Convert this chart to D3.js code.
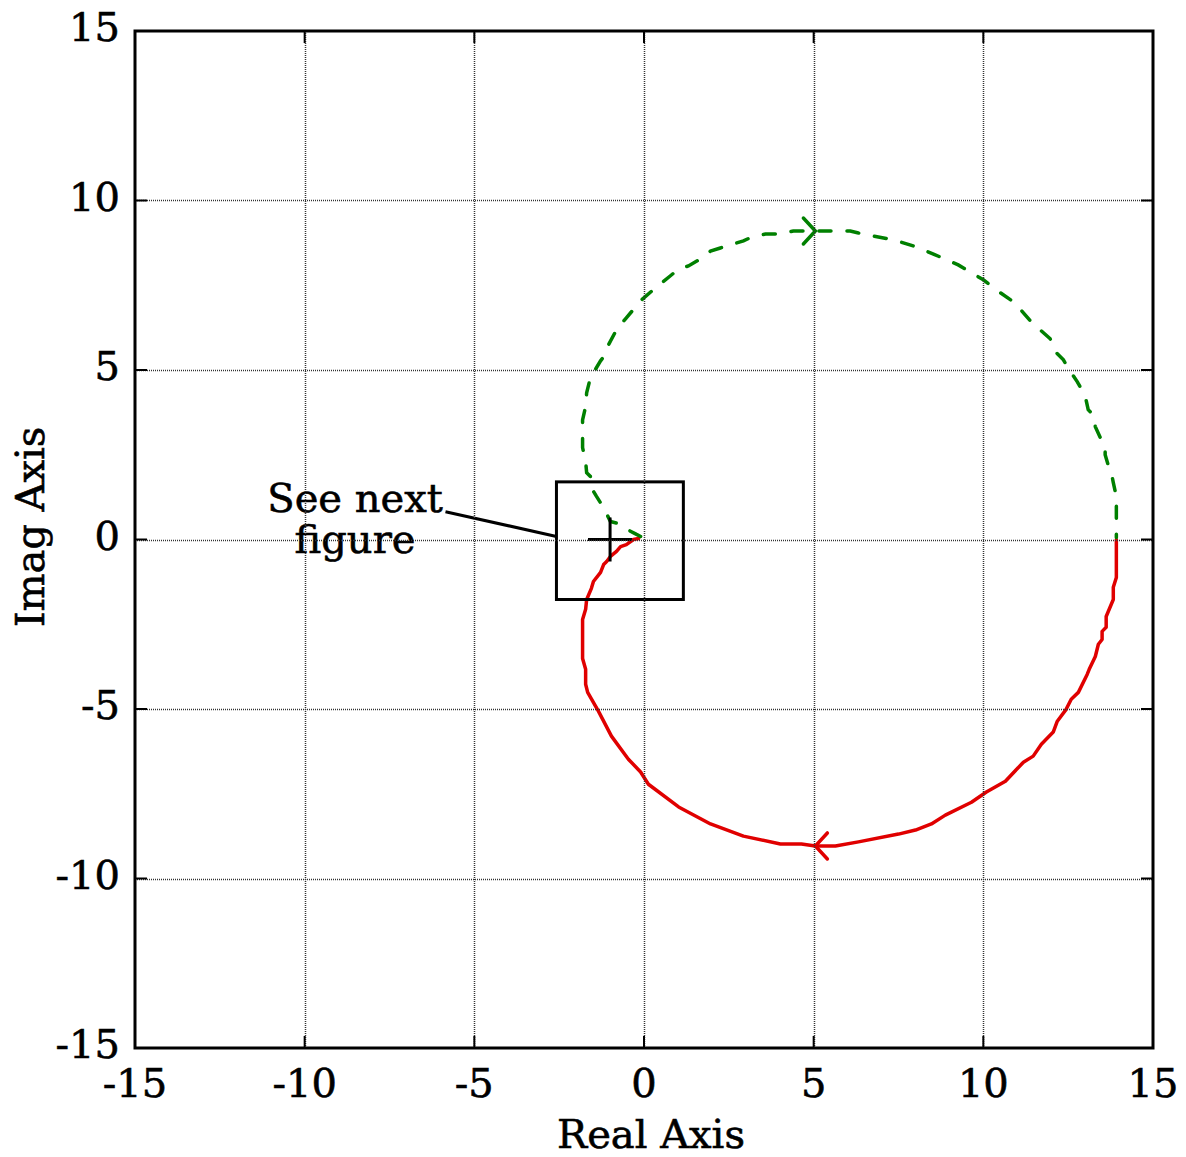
<!DOCTYPE html>
<html>
<head>
<meta charset="utf-8">
<script src="https://cdn.jsdelivr.net/npm/d3@7"></script>
<style>
  body { margin: 0; background: #fff; }
  text { font-family: "DejaVu Serif", serif; fill: #000; stroke: #000; stroke-width: 0.6px; }
</style>
</head>
<body>
<div id="plot"></div>
<script>
// tick values
var xTicks = [-15, -10, -5, 0, 5, 10, 15];
var yTicks = [-15, -10, -5, 0, 5, 10, 15];

// solid branch (lower half), from w=0 at the right round to the origin
var redRe = [13.92, 13.92, 13.83, 13.83, 13.62, 13.62, 13.50, 13.50, 13.39, 13.30, 13.12, 13.06, 12.80, 12.59, 12.44, 12.18, 12.06, 11.71, 11.47, 11.18, 10.65, 10.09, 9.65, 8.88, 8.47, 8.00, 7.50, 6.32, 5.64, 5.05, 4.64, 4.02, 2.93, 1.96, 1.02, 0.13, -0.10, -0.46, -0.96, -1.34, -1.66, -1.72, -1.72, -1.81, -1.81, -1.72, -1.69, -1.55, -1.49, -1.28, -1.19, -1.10, -0.99, -0.81, -0.69, -0.52, -0.31, -0.16];
var redIm = [0.00, -1.12, -1.41, -1.77, -2.27, -2.59, -2.71, -2.95, -3.09, -3.45, -3.83, -3.98, -4.51, -4.71, -5.01, -5.36, -5.68, -6.04, -6.39, -6.57, -7.13, -7.45, -7.75, -8.13, -8.39, -8.57, -8.69, -8.92, -9.04, -9.04, -8.98, -8.98, -8.75, -8.39, -7.89, -7.22, -6.86, -6.48, -5.80, -5.07, -4.51, -4.27, -3.83, -3.51, -2.36, -2.06, -1.77, -1.44, -1.24, -0.97, -0.74, -0.65, -0.50, -0.35, -0.21, -0.15, 0.00, 0.03];

// dashed branch (upper half), from the origin round to the right
var greenRe = [-0.10, -0.22, -0.54, -0.75, -0.99, -1.19, -1.40, -1.52, -1.58, -1.69, -1.72, -1.81, -1.81, -1.81, -1.72, -1.69, -1.58, -1.28, -1.19, -1.08, -0.84, -0.69, -0.52, -0.07, 0.37, 0.78, 1.02, 1.31, 1.72, 1.96, 2.25, 2.64, 2.93, 3.17, 3.58, 4.02, 4.40, 4.85, 5.23, 5.64, 6.08, 6.32, 6.76, 7.35, 7.94, 8.53, 9.26, 10.00, 10.50, 10.89, 11.03, 11.41, 11.97, 12.15, 12.36, 12.47, 12.77, 13.00, 13.09, 13.24, 13.30, 13.50, 13.59, 13.59, 13.71, 13.80, 13.83, 13.92, 13.92, 13.92, 13.92];
var greenIm = [0.09, 0.15, 0.32, 0.47, 0.53, 0.94, 1.27, 1.47, 1.86, 1.97, 2.30, 2.71, 3.15, 3.53, 3.92, 4.33, 4.77, 5.27, 5.39, 5.68, 6.13, 6.33, 6.54, 7.07, 7.45, 7.78, 7.98, 8.07, 8.31, 8.51, 8.60, 8.72, 8.81, 8.92, 9.01, 9.01, 9.10, 9.10, 9.10, 9.10, 9.10, 9.04, 8.95, 8.84, 8.66, 8.42, 8.10, 7.66, 7.28, 7.01, 6.86, 6.42, 5.92, 5.51, 5.30, 5.10, 4.65, 4.24, 3.83, 3.68, 3.33, 2.89, 2.74, 2.50, 2.09, 1.83, 1.68, 1.27, 0.83, 0.44, 0.06];

// direction arrows: tip position and direction (+1 right, -1 left)
var arrowRe = [5.05, 5.05];
var arrowIm = [9.10, -9.04];
var arrowDir = [1, -1];

// critical point -1 and zoom box with its note
var critRe = [-1];
var critIm = [0];
var boxRe = [-2.58, 1.16];
var boxIm = [-1.77, 1.70];
var noteLines = ["See next", "figure"];
var leaderRe = [-5.85, -2.58];
var leaderIm = [0.82, 0.09];

var W = 1186, H = 1157;
var padL = 135, padR = 1153, padT = 31, padB = 1048;

var svg = d3.select("#plot").append("svg")
  .attr("width", W)
  .attr("height", H)

svg.append("rect").attr("width", W).attr("height", H).attr("fill", "#fff")

var x = d3.scaleLinear().domain([-15, 15]).range([padL, padR])
var y = d3.scaleLinear().domain([-15, 15]).range([padB, padT])

var line = d3.line()
  .x(function(d){return x(d[0])})
  .y(function(d){return y(d[1])})

var red = d3.zip(redRe, redIm)
var green = d3.zip(greenRe, greenIm)

svg.append("path")
  .attr("d", line(red))
  .attr("fill", "none")
  .attr("stroke", "#e00000")
  .attr("stroke-width", 3.5)
  .attr("stroke-linejoin", "round")
  .attr("stroke-linecap", "round")

svg.append("path")
  .attr("d", line(green))
  .attr("fill", "none")
  .attr("stroke", "#008000")
  .attr("stroke-width", 3.5)
  .attr("stroke-dasharray", "12,16")
  .attr("stroke-linecap", "round")

// arrows
var arrowColor = ["#008000", "#e00000"]
arrowRe.forEach(function(re, i){
  var tx = x(re), ty = y(arrowIm[i]), dx = -12 * arrowDir[i]
  svg.append("path")
    .attr("d", "M" + (tx + dx) + "," + (ty - 13) + "L" + tx + "," + ty + "L" + (tx + dx) + "," + (ty + 13))
    .attr("fill", "none")
    .attr("stroke", arrowColor[i])
    .attr("stroke-width", 3.5)
    .attr("stroke-linecap", "round")
})

// -1 marker
critRe.forEach(function(re, i){
  svg.append("path")
    .attr("d", "M" + x(re - 0.65) + "," + y(critIm[i]) + "H" + x(re + 0.65) +
               "M" + x(re) + "," + y(critIm[i] + 0.65) + "V" + y(critIm[i] - 0.65))
    .attr("stroke", "#000")
    .attr("stroke-width", 3)
})

// zoom box and note
svg.append("rect")
  .attr("x", x(boxRe[0]))
  .attr("y", y(boxIm[1]))
  .attr("width", x(boxRe[1]) - x(boxRe[0]))
  .attr("height", y(boxIm[0]) - y(boxIm[1]))
  .attr("fill", "none")
  .attr("stroke", "#000")
  .attr("stroke-width", 3)

svg.append("line")
  .attr("x1", x(leaderRe[0])).attr("y1", y(leaderIm[0]))
  .attr("x2", x(leaderRe[1])).attr("y2", y(leaderIm[1]))
  .attr("stroke", "#000")
  .attr("stroke-width", 3)

svg.append("text")
  .attr("x", 355)
  .attr("y", 512)
  .attr("text-anchor", "middle")
  .attr("font-size", 40)
  .selectAll("tspan")
  .data(noteLines)
  .enter().append("tspan")
  .attr("x", 355)
  .attr("dy", function(d, i){return i ? 41 : 0})
  .text(function(d){return d})

// dotted grid, drawn on top like the original
var grid = svg.append("g")
  .attr("stroke", "#333")
  .attr("stroke-width", 1.5)
  .attr("stroke-dasharray", "1,1")
grid.selectAll("line.gx").data(xTicks.slice(1, -1)).enter().append("line")
  .attr("x1", function(d){return Math.round(x(d)) + 0.5})
  .attr("x2", function(d){return Math.round(x(d)) + 0.5})
  .attr("y1", padT).attr("y2", padB)
grid.selectAll("line.gy").data(yTicks.slice(1, -1)).enter().append("line")
  .attr("y1", function(d){return Math.round(y(d)) + 0.5})
  .attr("y2", function(d){return Math.round(y(d)) + 0.5})
  .attr("x1", padL).attr("x2", padR)

// inward ticks on all four sides
var ticks = svg.append("g").attr("stroke", "#000").attr("stroke-width", 2)
xTicks.forEach(function(t){
  ticks.append("line").attr("x1", x(t)).attr("x2", x(t)).attr("y1", padB).attr("y2", padB - 12)
  ticks.append("line").attr("x1", x(t)).attr("x2", x(t)).attr("y1", padT).attr("y2", padT + 12)
})
yTicks.forEach(function(t){
  ticks.append("line").attr("y1", y(t)).attr("y2", y(t)).attr("x1", padL).attr("x2", padL + 12)
  ticks.append("line").attr("y1", y(t)).attr("y2", y(t)).attr("x1", padR).attr("x2", padR - 12)
})

// frame
svg.append("rect")
  .attr("x", padL).attr("y", padT)
  .attr("width", padR - padL).attr("height", padB - padT)
  .attr("fill", "none")
  .attr("stroke", "#000")
  .attr("stroke-width", 3)

// tick labels
svg.selectAll("text.xt").data(xTicks).enter().append("text")
  .attr("x", function(d){return x(d)})
  .attr("y", padB + 49)
  .attr("text-anchor", "middle")
  .attr("font-size", 40)
  .text(function(d){return d})

svg.selectAll("text.yt").data(yTicks).enter().append("text")
  .attr("x", padL - 15)
  .attr("y", function(d){return y(d) + 10})
  .attr("text-anchor", "end")
  .attr("font-size", 40)
  .text(function(d){return d})

// axis titles
svg.append("text")
  .attr("x", (padL + padR) / 2 + 7)
  .attr("y", 1148)
  .attr("text-anchor", "middle")
  .attr("font-size", 40)
  .text("Real Axis")

svg.append("text")
  .attr("transform", "translate(44," + 527 + ") rotate(-90)")
  .attr("text-anchor", "middle")
  .attr("font-size", 40)
  .text("Imag Axis")
</script>
</body>
</html>
